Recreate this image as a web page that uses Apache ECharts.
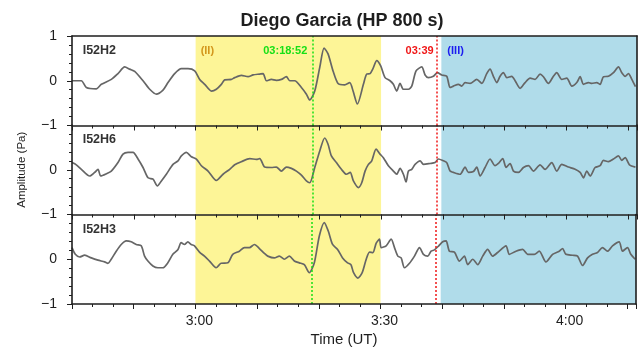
<!DOCTYPE html>
<html>
<head>
<meta charset="utf-8">
<script src="https://cdn.jsdelivr.net/npm/echarts@6/dist/echarts.min.js"></script>
<style>
  html, body { margin: 0; padding: 0; background: #fff; }
  #chart { width: 639px; height: 351px; }
</style>
</head>
<body>
<div id="chart"></div>
<script>
// Time is in minutes after 02:40 UT, amplitude in Pa.
const stations = ['I52H2', 'I52H6', 'I52H3'];

const h2Trace = [
  [0,0],[1.51,0],[2.32,-0.15],[3.94,-0.18],[4.75,-0.08],[6.36,0.03],[7.44,0.16],[8.52,0.31],[9.33,0.26],[10.14,0.21],
  [11.49,0],[12.57,-0.19],[13.65,-0.30],[14.72,-0.21],[15.53,-0.04],[16.61,0.16],[17.69,0.27],[18.77,0.27],[19.85,0.22],[20.66,0.03],
  [21.47,-0.08],[22.55,-0.23],[23.35,-0.19],[24.16,-0.08],[24.70,0.02],[25.78,0.03],[26.32,0.07],[27.40,0.12],[28.48,0.09],[29.29,0.13],
  [30.37,0.15],[30.91,0.16],[31.45,0],[32.25,0.03],[33.06,0.01],[33.87,0.03],[34.68,0.09],[35.22,0],[36.03,0],[37.11,-0.15],
  [37.92,-0.30],[38.46,-0.43],[39.27,-0.23],[40.08,0.30],[40.78,0.73],[41.42,0.60],[42.23,0.22],[43.04,-0.06],[44.12,-0.09],[44.93,-0.04],
  [45.47,-0.23],[46.17,-0.52],[47.14,-0.08],[47.68,0.15],[48.22,0.16],[48.65,0.26],[49.30,0.45],[49.94,0.33],[50.64,0.07],[51.45,0],
  [51.99,-0.08],[52.53,-0.23],[53.07,-0.06],[53.61,-0.19],[54.42,-0.19],[54.96,-0.12],[55.66,0.22],[56.58,0.31],[57.12,0.13],[57.66,0.07],
  [58.46,0.10],[59.11,0.18],[59.81,0.13],[60.62,0.10],[61.16,-0.15],[61.70,-0.12],[62.51,-0.08],[63.05,-0.12],[63.59,-0.04],[64.40,-0.06],
  [65.48,0.03],[66.29,-0.06],[67.09,0.16],[67.63,0.26],[68.17,0.10],[68.71,-0.04],[69.25,0.10],[69.79,0.18],[70.33,0.07],[71.14,0.10],
  [71.68,0],[72.49,-0.17],[73.30,-0.04],[74.11,0.06],[74.92,0.03],[75.72,0.15],[76.26,0.09],[77.07,-0.06],[77.88,0.10],[78.42,0.18],
  [79.23,0.03],[80.04,0.06],[80.85,-0.12],[81.66,-0.04],[82.20,0.09],[82.74,-0.08],[83.55,-0.04],[84.09,-0.06],[84.89,-0.04],[85.43,-0.08],
  [85.97,0.09],[86.78,0.10],[87.59,0.18],[88.40,0.31],[88.94,0.18],[89.48,0.10],[90.02,0.16],[90.56,0.03],[91.15,-0.13]
];

const h6Trace = [
  [0,0.16],[0.70,0.11],[1.51,0.01],[2.86,-0.14],[3.67,-0.06],[4.21,0.01],[4.64,-0.14],[5.56,-0.09],[6.36,-0.03],[7.44,0.16],
  [8.25,0.35],[9.06,0.39],[9.87,0.39],[10.68,0.24],[11.49,0.05],[12.30,-0.18],[13.11,-0.21],[13.81,-0.36],[14.46,-0.25],[15.26,-0.10],
  [16.34,0.12],[17.15,0.20],[17.69,0.31],[18.50,0.39],[19.31,0.29],[20.12,0.24],[20.93,0.09],[22.01,-0.03],[23.35,-0.24],[24.43,-0.10],
  [25.51,0.01],[26.32,0.11],[27.40,0.18],[28.75,0.25],[29.83,0.23],[30.37,0.25],[31.18,0.06],[32.25,0.05],[33.06,0.06],[33.87,-0.03],
  [34.68,0.06],[35.49,0.03],[36.30,-0.03],[37.11,-0.12],[37.92,-0.25],[38.46,-0.29],[39.27,0.05],[40.08,0.42],[40.88,0.71],[41.42,0.57],
  [41.96,0.31],[42.77,0.16],[43.58,0.01],[44.39,-0.10],[45.00,-0.06],[45.52,-0.25],[46.33,-0.40],[46.87,-0.29],[47.41,-0.03],[47.95,0.12],
  [48.49,0.20],[49.19,0.46],[49.83,0.35],[50.37,0.27],[51.18,0.09],[51.99,-0.03],[52.53,-0.10],[53.07,0.03],[53.61,-0.10],[54.04,-0.27],
  [54.42,-0.03],[54.96,0.01],[55.50,0.12],[56.31,0.20],[56.85,0.12],[57.92,0.14],[58.73,0.16],[59.27,0.24],[60.08,0.20],[60.62,0.16],
  [61.16,-0.03],[61.70,-0.06],[62.78,-0.10],[63.59,0.06],[64.13,-0.06],[64.94,-0.04],[65.48,0.06],[66.02,-0.14],[66.82,0.05],[67.63,0.24],
  [68.44,0.09],[68.98,0.14],[69.68,0.25],[70.22,0.05],[70.87,0.14],[71.41,-0.03],[72.22,-0.06],[73.03,0.05],[73.84,0.09],[74.65,-0.03],
  [75.72,0.11],[76.53,0.01],[77.61,0.16],[78.42,-0.03],[79.23,0.12],[80.31,0.06],[81.39,0.01],[82.20,-0.06],[82.74,-0.18],[83.28,-0.03],
  [83.82,-0.14],[84.62,0.05],[85.43,0.09],[85.97,0.21],[86.78,0.18],[87.59,0.24],[88.40,0.31],[88.94,0.21],[89.48,0.27],[90.18,0.11],
  [91.15,0.06]
];

const h3Trace = [
  [0,0.26],[0.54,0.11],[1.24,0.05],[2.05,0.09],[3.13,0.03],[4.21,-0.02],[5.29,-0.06],[5.83,-0.09],[6.36,0],[7.17,0.18],
  [7.98,0.33],[8.79,0.41],[9.60,0.39],[10.41,0.33],[11.22,0.30],[11.76,0.07],[12.30,-0.04],[13.11,-0.15],[13.92,-0.19],[14.72,-0.19],
  [15.53,-0.08],[16.34,0.11],[17.15,0.21],[17.69,0.37],[18.23,0.33],[18.77,0.39],[19.31,0.33],[19.85,0.30],[20.66,0.16],[21.47,0.07],
  [22.28,-0.04],[23.35,-0.19],[24.16,-0.09],[25.24,-0.08],[26.05,0.11],[27.13,0.18],[27.94,0.26],[28.75,0.26],[29.56,0.33],[30.37,0.24],
  [31.18,0.13],[31.72,0.07],[32.79,0.03],[33.60,0.07],[34.41,0],[35.22,0.07],[36.03,-0.04],[36.84,-0.08],[37.65,-0.12],[38.46,-0.30],
  [39.27,-0.08],[40.08,0.52],[40.88,0.82],[41.53,0.63],[42.23,0.33],[43.04,0.22],[43.85,0.03],[44.66,-0.08],[45.20,-0.12],[45.63,-0.30],
  [46.33,-0.42],[47.03,-0.30],[47.68,0],[48.22,0.16],[48.76,0.15],[49.30,0.36],[49.83,0.45],[50.10,0.26],[50.91,0.30],[51.72,0.45],
  [52.26,0.26],[52.80,0.07],[53.34,0.03],[53.88,-0.19],[54.69,-0.09],[55.50,0.07],[56.31,0.26],[56.95,0.11],[57.66,0.07],[58.19,0.18],
  [58.73,0.21],[59.44,0.30],[60.08,0.39],[60.62,0.41],[61.16,0.18],[61.97,0.16],[62.78,-0.04],[63.59,0.07],[64.13,-0.12],[64.94,0],
  [65.75,-0.12],[66.56,0.07],[67.36,0.22],[68.17,0.07],[68.98,0.15],[70.33,0.30],[70.87,0.11],[71.95,0.18],[73.03,0.22],[73.84,0.11],
  [74.92,0.11],[75.72,0.18],[76.80,-0.06],[77.88,0.11],[78.96,0.18],[79.50,0.24],[80.04,0.11],[81.12,0.09],[81.93,0.07],[82.74,-0.14],
  [83.55,0.03],[84.35,0.11],[85.16,0.15],[85.97,0.26],[86.78,0.18],[87.59,0.30],[88.67,0.39],[89.21,0.18],[90.02,0.26],[90.56,0.11],
  [91.26,0]
];

const traces = [h2Trace, h6Trace, h3Trace];
const timeTickLabels = { 20: '3:00', 50: '3:30', 80: '4:00' };
const timeMax = 91.4;              // 04:11:24
const phaseII = [20, 50];          // 03:00 – 03:30
const phaseIII = [59.75, timeMax]; // from 03:39:45
const onset = 38 + 52 / 60;        // 03:18:52
const arrival = 59;                // 03:39
const onsetLabel = '03:18:52';
const arrivalLabel = '03:39';

const FONT = '"Liberation Sans", Arial, Helvetica, sans-serif';
const INK = '#1e1e1e';
const panelTops = [36, 125, 214.5];
const panelHeight = 89.5;

const grid = panelTops.map(top => ({ left: 72, right: 2, top: top, height: panelHeight }));

const minus = v => (v < 0 ? '\u2212' + Math.abs(v) : String(v));

const xAxis = panelTops.map((_, i) => ({
  gridIndex: i,
  type: 'value',
  min: 0,
  max: timeMax,
  interval: 10,
  z: 10,
  axisLine: { show: true, onZero: false, lineStyle: { color: INK, width: 1.6 } },
  axisTick: { show: true, length: 5, lineStyle: { color: INK, width: 1 } },
  minorTick: { show: true, splitNumber: 3, length: 3, lineStyle: { color: INK, width: 1 } },
  splitLine: { show: false },
  axisLabel: {
    show: i === 2,
    fontFamily: FONT, fontSize: 14, color: INK, margin: 10,
    padding: [0, 0, 0, 8],
    formatter: v => timeTickLabels[v] || ''
  },
  name: i === 2 ? 'Time (UT)' : '',
  nameLocation: 'middle',
  nameGap: 28,
  nameTextStyle: { fontFamily: FONT, fontSize: 15, color: INK, padding: [0, 20, 0, 0] }
}));
// top frame edge of the first panel
xAxis.push({
  gridIndex: 0, type: 'value', min: 0, max: timeMax, position: 'top', z: 10,
  axisLine: { show: true, onZero: false, lineStyle: { color: INK, width: 1.6 } },
  axisTick: { show: false }, axisLabel: { show: false }, splitLine: { show: false }
});

const yAxis = panelTops.map((_, i) => ({
  gridIndex: i,
  type: 'value',
  min: -1,
  max: 1,
  interval: 1,
  z: 10,
  axisLine: { show: true, onZero: false, lineStyle: { color: INK, width: 1.6 } },
  axisTick: { show: true, length: 5, lineStyle: { color: INK, width: 1 } },
  minorTick: { show: true, splitNumber: 5, length: 3, lineStyle: { color: INK, width: 1 } },
  splitLine: { show: false },
  axisLabel: {
    fontFamily: FONT, fontSize: 14, color: INK, margin: 15,
    formatter: v => (i > 0 && v === 1 ? '' : minus(v))
  },
  name: i === 1 ? 'Amplitude (Pa)' : '',
  nameLocation: 'middle',
  nameGap: 44,
  nameTextStyle: { fontFamily: FONT, fontSize: 11.5, color: INK }
}));
// right frame edge of every panel
panelTops.forEach((_, i) => {
  yAxis.push({
    gridIndex: i, type: 'value', min: -1, max: 1, position: 'right', z: 10,
    axisLine: { show: true, onZero: false, lineStyle: { color: INK, width: 1.6 } },
    axisTick: { show: false }, axisLabel: { show: false }, splitLine: { show: false }
  });
});

const labelY = 0.67;
const tag = (x, text, color, position, distance, size) => ({
  coord: [x, labelY],
  symbol: 'circle',
  symbolSize: 0,
  itemStyle: { color: 'rgba(0,0,0,0)' },
  label: {
    show: true, position: position, distance: distance,
    formatter: text, color: color,
    fontFamily: FONT, fontSize: size, fontWeight: 'bold'
  }
});

const series = traces.map((trace, i) => {
  const marks = [tag(1.73, stations[i], '#333333', 'right', 0, 12.5)];
  if (i === 0) {
    marks.push(tag(phaseII[0], '(II)', '#d3961c', 'right', 5, 11));
    marks.push(tag(onset, onsetLabel, '#16e016', 'left', 5, 11));
    marks.push(tag(arrival, arrivalLabel, '#f01818', 'left', 3, 11));
    marks.push(tag(phaseIII[0], '(III)', '#1c1cf0', 'right', 6, 11));
  }
  return {
    type: 'line',
    xAxisIndex: i,
    yAxisIndex: i,
    data: trace,
    showSymbol: false,
    smooth: 0.25,
    animation: false,
    lineStyle: { color: '#666666', width: 1.7 },
    markArea: {
      silent: true,
      data: [
        [{ xAxis: phaseII[0], itemStyle: { color: '#fdf597' } }, { xAxis: phaseII[1] }],
        [{ xAxis: phaseIII[0], itemStyle: { color: '#b0dcea' } }, { xAxis: phaseIII[1] }]
      ]
    },
    markLine: {
      silent: true,
      symbol: 'none',
      label: { show: false },
      data: [
        { xAxis: onset, lineStyle: { color: '#16e016', type: [2, 2], width: 1.5 } },
        { xAxis: arrival, lineStyle: { color: '#f01818', type: [2, 2], width: 1.5 } }
      ]
    },
    markPoint: { silent: true, data: marks }
  };
});

const chart = echarts.init(document.getElementById('chart'), null, { renderer: 'canvas' });
chart.setOption({
  animation: false,
  backgroundColor: '#ffffff',
  title: {
    text: 'Diego Garcia (HP 800 s)',
    left: 337,
    top: 7,
    textAlign: 'center',
    textStyle: { fontFamily: FONT, fontSize: 18, fontWeight: 'bold', color: INK }
  },
  grid: grid,
  xAxis: xAxis,
  yAxis: yAxis,
  series: series
});
</script>
</body>
</html>
